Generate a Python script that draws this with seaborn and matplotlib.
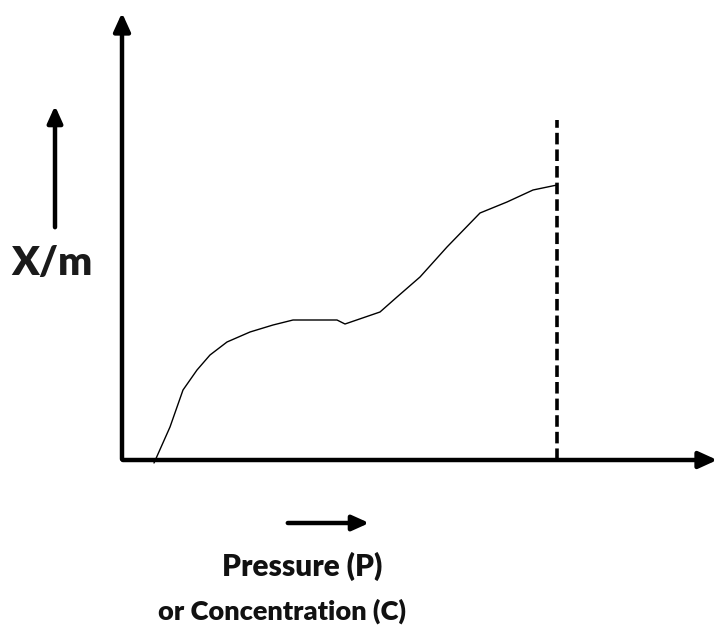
import seaborn as sns
import pandas as pd
import matplotlib.pyplot as plt

# curve (x = pressure, y = x/m, pixel units from origin)
pressure = [32, 48, 61, 75, 88, 105, 128, 151, 171, 215, 223, 258, 275, 298, 325, 358, 385, 411, 435]
xm = [-3, 33, 70, 90, 105, 118, 128, 135, 140, 140, 136, 148, 163, 183, 213, 247, 258, 270, 275]
saturation_p = 435
y_label = "X/m"
x_label1 = "Pressure (P)"
x_label2 = "or Concentration (C)"

df = pd.DataFrame({"P": pressure, "xm": xm})

sns.set_style("white")
plt.rcParams['font.family'] = ['Lato', 'DejaVu Sans']

fig = plt.figure(figsize=(7.25, 6.32), dpi=100)
ax = fig.add_axes([0, 0, 1, 1])
ax.set_xlim(-122, 603)
ax.set_ylim(-172, 460)

sns.lineplot(data=df, x="P", y="xm", ax=ax, color="black", linewidth=1.0)

# main axes with arrows
ax.annotate("", xy=(598, 0), xytext=(-2, 0),
            arrowprops=dict(arrowstyle="-|>,head_length=1.1,head_width=0.5", lw=3.2, color="black"))
ax.annotate("", xy=(0, 450), xytext=(0, -2),
            arrowprops=dict(arrowstyle="-|>,head_length=1.1,head_width=0.5", lw=3.2, color="black"))

# saturation line
ax.plot([saturation_p, saturation_p], [0, 340], color="black", lw=2.6, ls=(0, (3.2, 1.4)))

# small arrows with labels
ax.annotate("", xy=(-67, 357), xytext=(-67, 230),
            arrowprops=dict(arrowstyle="-|>,head_length=1.0,head_width=0.45", lw=3.2, color="black"))
ax.text(-111, 185, y_label, fontsize=29, fontweight="heavy", ha="left", va="baseline", color="#1a1a1a")

ax.annotate("", xy=(250, -63), xytext=(163, -63),
            arrowprops=dict(arrowstyle="-|>,head_length=1.0,head_width=0.45", lw=3.2, color="black"))
ax.text(100, -116, x_label1, fontsize=21.5, fontweight="heavy", ha="left", va="baseline", color="#111111")
ax.text(36, -160, x_label2, fontsize=19.5, fontweight="heavy", ha="left", va="baseline", color="#111111")

ax.axis("off")
plt.savefig("out.png", dpi=100)
